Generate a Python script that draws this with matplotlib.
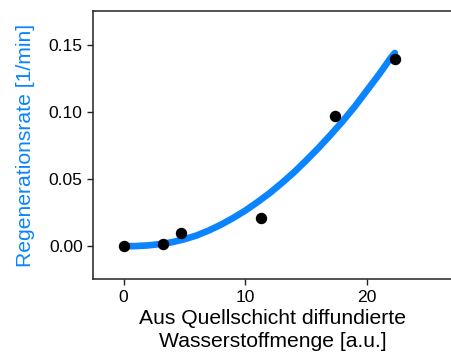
import matplotlib
matplotlib.use("Agg")
import matplotlib.pyplot as plt

plt.rcParams['font.family'] = ['Liberation Sans', 'DejaVu Sans']

# measured points
menge = [0.0, 3.25, 4.73, 11.3, 17.4, 22.35]
rate = [0.0, 0.0017, 0.0101, 0.0213, 0.0967, 0.1398]

# fit curve
fit_x = [0, 1, 2, 3, 4, 5, 6, 7, 8, 9, 10, 11, 12, 13, 14, 15, 16, 17, 18, 19, 20, 21, 22, 22.3]
fit_y = [0.0, 0.0001, 0.0006, 0.0016, 0.0030, 0.0052, 0.0080, 0.0117, 0.0160, 0.0210,
         0.0265, 0.0328, 0.0395, 0.0470, 0.0550, 0.0638, 0.0730, 0.0828, 0.0930,
         0.1040, 0.1160, 0.1280, 0.1408, 0.1440]

blue = '#0a84ff'

fig = plt.figure(figsize=(4.52, 3.56), dpi=100)
ax = fig.add_axes([0.206, 0.216, 0.794, 0.752])

ax.plot(fit_x, fit_y, color=blue, lw=4.8, solid_capstyle='round', zorder=2)
ax.scatter(menge, rate, s=52, color='black', zorder=3)

ax.set_xlim(-2.5, 27)
ax.set_ylim(-0.0245, 0.175)
ax.set_xticks([0, 10, 20])
ax.set_yticks([0.0, 0.05, 0.10, 0.15])
ax.set_yticklabels(['0.00', '0.05', '0.10', '0.15'])

for s in ['left', 'top', 'bottom']:
    ax.spines[s].set_linewidth(1.1)
    ax.spines[s].set_color('#222222')
ax.spines['right'].set_visible(False)
ax.tick_params(direction='out', length=4.5, width=1, labelsize=12.6, pad=3, colors='#222222')
ax.tick_params(labelcolor='black')

ax.set_xlabel('Aus Quellschicht diffundierte\nWasserstoffmenge [a.u.]', fontsize=15.2, labelpad=3,
              linespacing=1.3)
ax.set_ylabel('Regenerationsrate [1/min]', fontsize=15.2, color=blue, labelpad=10)

fig.savefig('out.png', dpi=100)
